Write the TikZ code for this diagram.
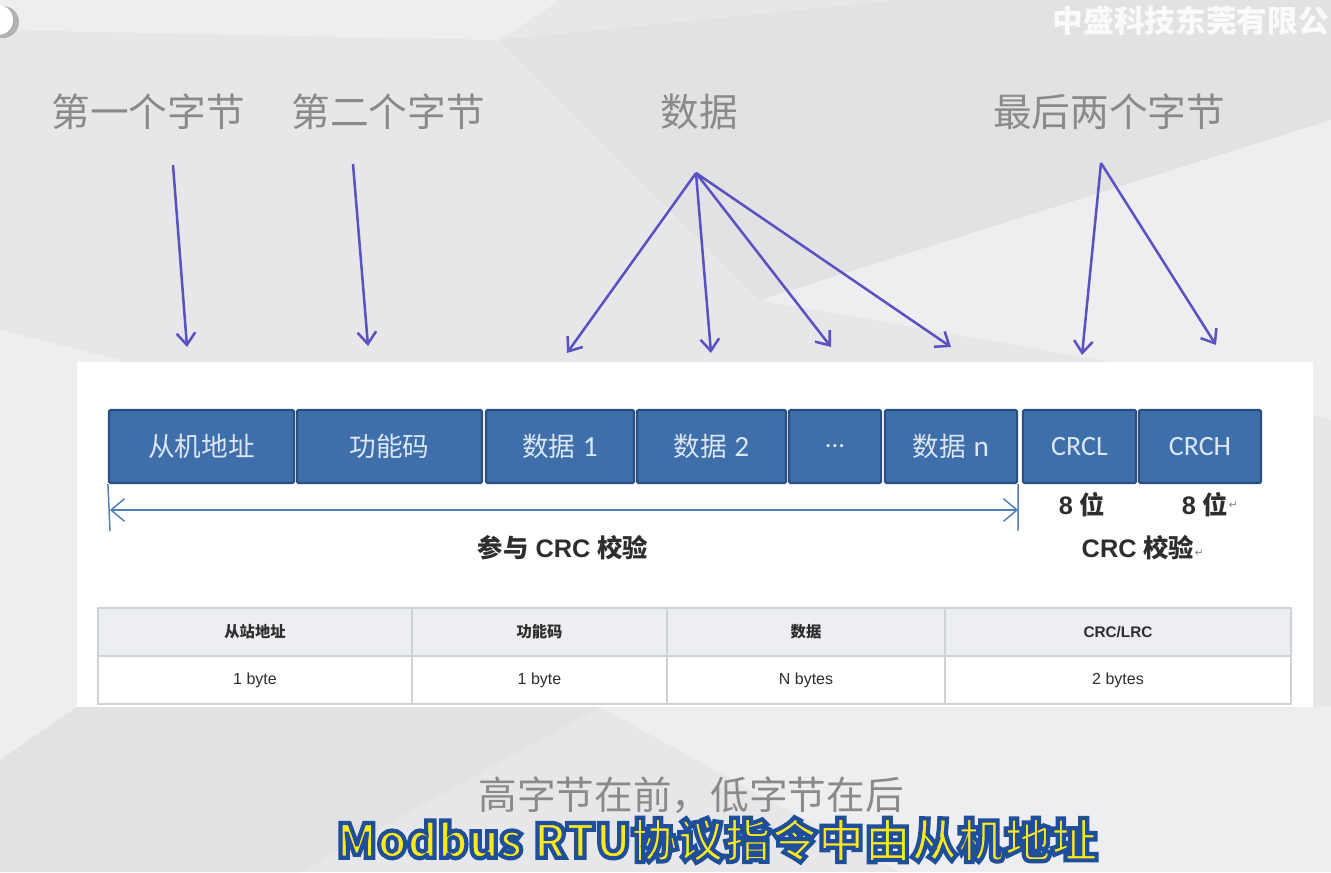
\documentclass[tikz,border=0pt]{standalone}
\usepackage{fontspec}
\setmainfont{Liberation Sans}
\newfontfamily\cjk{Noto Sans CJK SC}
\newfontfamily\cjkfb{Noto Sans CJK SC Black}[FakeBold=9]
\newfontfamily\cali{Carlito}
\newfontfamily\arial{Liberation Sans}
\newfontfamily\dejavu{DejaVu Sans}
\usetikzlibrary{arrows.meta}
\definecolor{bgc}{HTML}{E7E7E9}
\definecolor{bgl}{HTML}{EEEEF0}
\definecolor{bgd}{HTML}{E2E2E5}
\definecolor{labelgray}{HTML}{8A8A8A}
\definecolor{arrowc}{HTML}{5B52C2}
\definecolor{boxblue}{HTML}{3E6FAB}
\definecolor{boxborder}{HTML}{2A4F80}
\definecolor{boxtext}{HTML}{DCE6F2}
\definecolor{dimc}{HTML}{4F7FB8}
\definecolor{hdrfill}{HTML}{ECEEF1}
\definecolor{cellline}{HTML}{CFD3D8}
\definecolor{darktext}{HTML}{2E2E2E}
\definecolor{subyellow}{HTML}{FFE81A}
\definecolor{subblue}{HTML}{1F4E9A}
\newcommand{\bluestroke}{\special{pdf:literal direct 0.122 0.306 0.604 RG}}
\begin{document}
\begin{tikzpicture}[x=0.75pt,y=-0.75pt,
  toplabel/.style={text=labelgray, font=\cjk\fontsize{29}{34}\selectfont, inner sep=0pt},
  fbox/.style={draw=boxborder, line width=1.6pt, fill=boxblue, text=boxtext, rounded corners=1pt,
    minimum height=54.75pt, inner sep=0pt, font=\fontsize{20}{24}\selectfont},
  callout/.style={draw=arrowc, line width=1.9pt, -{Straight Barb[length=9pt,width=14pt,line width=1.9pt]}},
  dimline/.style={draw=dimc, line width=1.1pt},
  blabel/.style={text=darktext, inner sep=0pt, font=\fontsize{19}{22}\selectfont\bfseries},
  hcell/.style={draw=cellline, line width=0.8pt, fill=hdrfill, minimum height=36pt, inner sep=0pt,
    text=darktext, font=\cjk\fontsize{11.5}{14}\selectfont\bfseries},
  bcell/.style={draw=cellline, line width=0.8pt, fill=white, minimum height=36pt, inner sep=0pt,
    text=darktext, font=\arial\fontsize{12}{14}\selectfont},
  retmark/.style={text=gray, font=\dejavu\fontsize{8}{9}\selectfont, inner sep=0pt}
]
\useasboundingbox (0,0) rectangle (1331,872);
% background facets
\fill[bgc] (0,0) rectangle (1331,872);
\fill[bgl] (0,0) -- (560,0) -- (500,40) -- (0,30) -- cycle;
\fill[bgd] (500,40) -- (900,0) -- (1331,0) -- (1331,120) -- (760,300) -- cycle;
\fill[bgl] (760,300) -- (1331,120) -- (1331,420) -- (1100,360) -- cycle;
\fill[bgl] (0,330) -- (120,360) -- (77,707) -- (0,760) -- cycle;
\fill[bgd] (0,760) -- (77,707) -- (600,707) -- (300,872) -- (0,872) -- cycle;
\fill[bgl] (600,707) -- (1331,707) -- (1331,872) -- (900,872) -- cycle;
% top-left corner object
\fill[gray!60] (3,22) circle (16);
\fill[white] (-2,20) circle (15);
% watermark
\node[anchor=east, text=white, opacity=0.85, inner sep=0pt,
  font=\cjk\fontsize{23}{28}\selectfont\bfseries] (wm) at (1329,21) {中盛科技东莞有限公};
% white panel
\fill[white] (77,362) rectangle (1313,707);
% top labels
\node[toplabel] (l1) at (148,112) {第一个字节};
\node[toplabel] (l2) at (388,112) {第二个字节};
\node[toplabel] (l3) at (699,112) {数据};
\node[toplabel] (l4) at (1109,112) {最后两个字节};
% frame boxes
\node[fbox, minimum width=138.75pt] (b1) at (201.5,446.5) {\cjk 从机地址};
\node[fbox, minimum width=138.75pt] (b2) at (389.5,446.5) {\cjk 功能码};
\node[fbox, minimum width=111pt] (b3) at (560,446.5) {{\cjk 数据} {\cali\fontsize{22}{24}\selectfont 1}};
\node[fbox, minimum width=111.75pt] (b4) at (711.5,446.5) {{\cjk 数据} {\cali\fontsize{22}{24}\selectfont 2}};
\node[fbox, minimum width=69pt] (b5) at (835,446.5) {\cali ...};
\node[fbox, minimum width=99pt] (b6) at (951,446.5) {{\cjk 数据} {\cali\fontsize{22}{24}\selectfont n}};
\node[fbox, minimum width=84.75pt] (b7) at (1079.5,446.5) {\cali\fontsize{21}{24}\selectfont CRCL};
\node[fbox, minimum width=91.5pt] (b8) at (1200,446.5) {\cali\fontsize{21}{24}\selectfont CRCH};
% callout arrows
\coordinate (s1) at (173,165); \coordinate (e1) at (187,347);
\coordinate (s2) at (353,164); \coordinate (e2) at (368,346);
\coordinate (s3) at (696,173);
\coordinate (e3a) at (567,353); \coordinate (e3b) at (711,353);
\coordinate (e3c) at (831,347); \coordinate (e3d) at (951,347);
\coordinate (s4) at (1101,163);
\coordinate (e4a) at (1082,355); \coordinate (e4b) at (1216,345);
\draw[callout] (s1) -- (e1);
\draw[callout] (s2) -- (e2);
\draw[callout] (s3) -- (e3a);
\draw[callout] (s3) -- (e3b);
\draw[callout] (s3) -- (e3c);
\draw[callout] (s3) -- (e3d);
\draw[callout] (s4) -- (e4a);
\draw[callout] (s4) -- (e4b);
% dimension line
\coordinate (tl) at (110,531); \coordinate (tr) at (1018,531);
\coordinate (dl) at (110,510); \coordinate (dr) at (1018,510);
\draw[dimline] (b1.south west) -- (tl);
\draw[dimline] (b6.south east) -- (tr);
\draw[dimline, {Straight Barb[length=10pt,width=17pt,line width=1.1pt]}-{Straight Barb[length=10pt,width=17pt,line width=1.1pt]}] (dl) -- (dr);
% labels under boxes
\node[blabel] (p1) at (563,548) {{\cjk 参与} CRC {\cjk 校验}};
\node[blabel] (p2) at (1082,505) {8 {\cjk 位}};
\node[blabel] (p3) at (1205,505) {8 {\cjk 位}};
\node[retmark, anchor=west] (r1) at (p3.east) {↵};
\node[blabel] (p4) at (1138,548) {CRC {\cjk 校验}};
\node[retmark, anchor=west] (r2) at ([yshift=-4pt]p4.east) {↵};
% table
\node[hcell, minimum width=235.5pt] (h1) at (255,632) {从站地址};
\node[hcell, minimum width=191.25pt] (h2) at (539.5,632) {功能码};
\node[hcell, minimum width=208.5pt] (h3) at (806,632) {数据};
\node[hcell, minimum width=259.5pt, font=\arial\fontsize{11.5}{14}\selectfont\bfseries] (h4) at (1118,632) {CRC/LRC};
\node[bcell, minimum width=235.5pt] (c1) at (255,680) {1 byte};
\node[bcell, minimum width=191.25pt] (c2) at (539.5,680) {1 byte};
\node[bcell, minimum width=208.5pt] (c3) at (806,680) {N bytes};
\node[bcell, minimum width=259.5pt] (c4) at (1118,680) {2 bytes};
% bottom caption
\node[text=labelgray, inner sep=0pt, font=\cjk\fontsize{29}{34}\selectfont] (cap) at (691,795) {高字节在前，低字节在后};
% subtitle: yellow fill with blue stroke
\node[text=subyellow, inner sep=0pt, font=\cjkfb\fontsize{35}{40}\selectfont] (sub) at (717,840) {\bluestroke Modbus RTU协议指令中由从机地址};
\end{tikzpicture}
\end{document}
